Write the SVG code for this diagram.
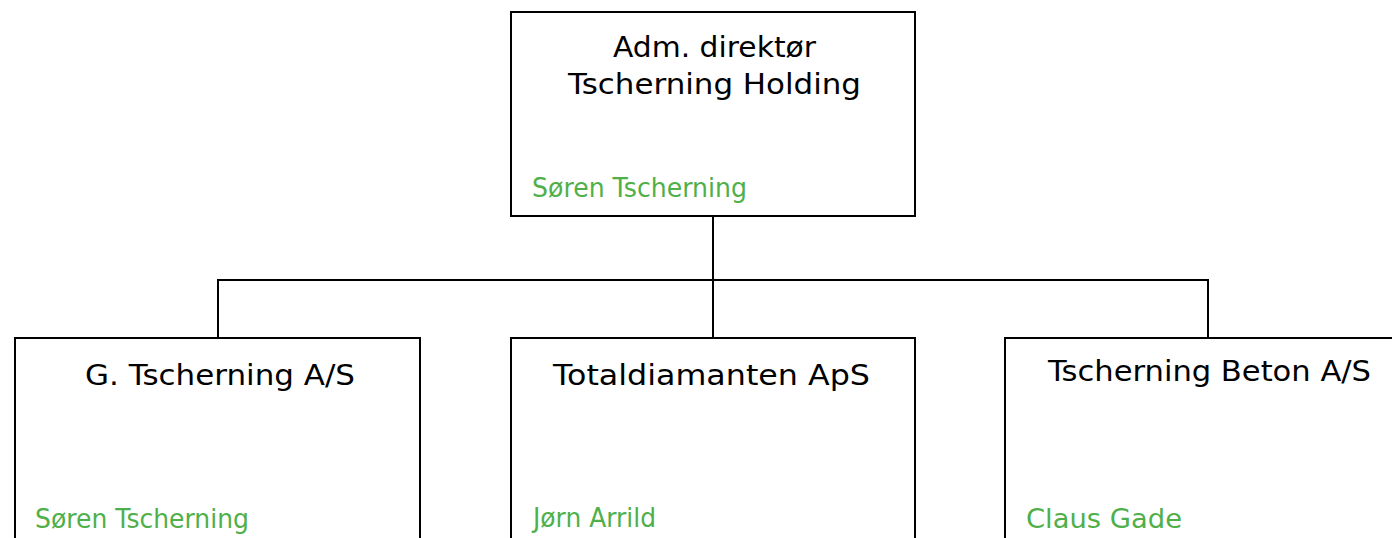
<svg xmlns="http://www.w3.org/2000/svg" width="1392" height="538" viewBox="0 0 1392 538">
<style>
.box{fill:#ffffff;stroke:#000000;stroke-width:2}
.line{fill:none;stroke:#000000;stroke-width:2}
.title{font-family:"DejaVu Sans","Liberation Sans",sans-serif;font-size:28px;fill:#000000}
.name{font-family:"DejaVu Sans","Liberation Sans",sans-serif;font-size:26px;fill:#4fb04a}
</style>
<rect width="1392" height="538" fill="#ffffff"/>
<g id="connectors">
<path class="line" d="M713 216 V338"/>
<path class="line" d="M218 338 V280 H1208 V338"/>
</g>
<g id="node-holding">
<rect class="box" x="511" y="12" width="404" height="204"/>
<text class="title" x="613" y="57" textLength="203" lengthAdjust="spacingAndGlyphs">Adm. direktør</text>
<text class="title" x="568" y="94" textLength="293" lengthAdjust="spacingAndGlyphs">Tscherning Holding</text>
<text class="name" x="532" y="197" textLength="215" lengthAdjust="spacingAndGlyphs">Søren Tscherning</text>
</g>
<g id="node-gtscherning">
<rect class="box" x="15" y="338" width="405" height="220"/>
<text class="title" x="85" y="385" textLength="270" lengthAdjust="spacingAndGlyphs">G. Tscherning A/S</text>
<text class="name" x="35" y="528" textLength="214" lengthAdjust="spacingAndGlyphs">Søren Tscherning</text>
</g>
<g id="node-totaldiamanten">
<rect class="box" x="511" y="338" width="404" height="220"/>
<text class="title" x="553" y="385" textLength="317" lengthAdjust="spacingAndGlyphs">Totaldiamanten ApS</text>
<text class="name" x="533" y="527" textLength="123" lengthAdjust="spacingAndGlyphs">Jørn Arrild</text>
</g>
<g id="node-beton">
<rect class="box" x="1005" y="338" width="420" height="220"/>
<text class="title" x="1048" y="381" textLength="323" lengthAdjust="spacingAndGlyphs">Tscherning Beton A/S</text>
<text class="name" x="1026" y="528" textLength="156" lengthAdjust="spacingAndGlyphs">Claus Gade</text>
</g>
</svg>
